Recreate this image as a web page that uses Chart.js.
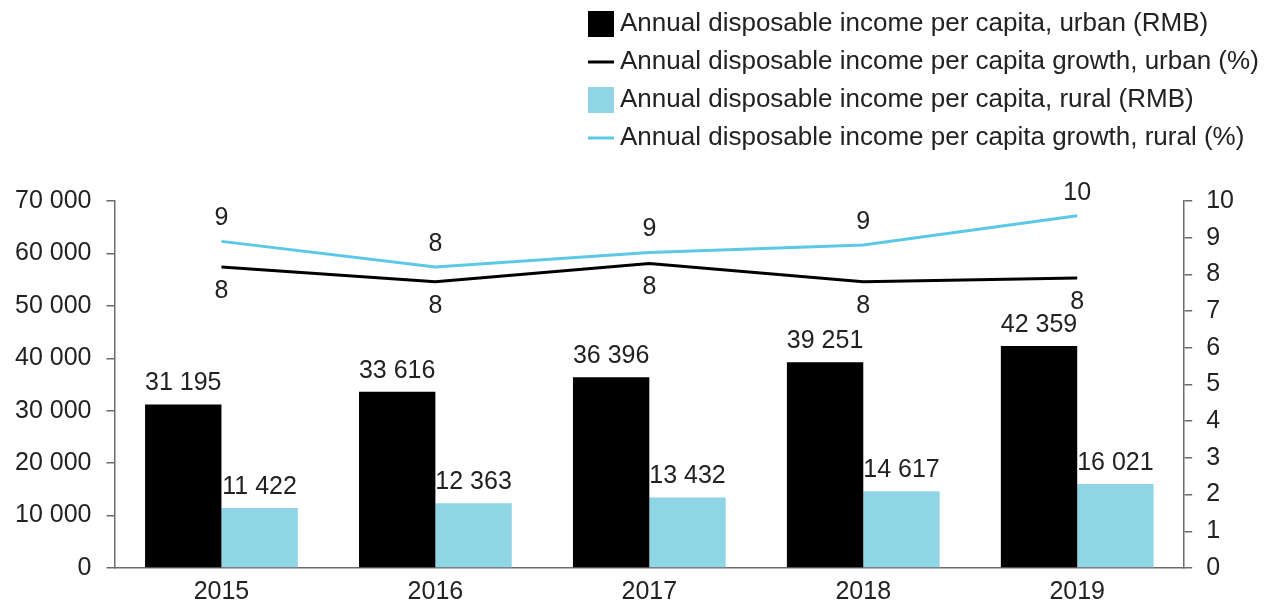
<!DOCTYPE html>
<html>
<head>
<meta charset="utf-8">
<script src="https://cdn.jsdelivr.net/npm/chart.js@4/dist/chart.umd.min.js"></script>
<style>
  html, body { margin: 0; padding: 0; background: #fff; }
  #wrap { width: 1273px; height: 605px; }
</style>
</head>
<body>
<div id="wrap"><canvas id="myChart"></canvas></div>
<script>
const years = ['2015', '2016', '2017', '2018', '2019']
const urbanIncome = [31195, 33616, 36396, 39251, 42359]
const ruralIncome = [11422, 12363, 13432, 14617, 16021]
const urbanGrowth = [8.2, 7.8, 8.3, 7.8, 7.9]
const ruralGrowth = [8.9, 8.2, 8.6, 8.8, 9.6]
const leftTicks = [0, 10000, 20000, 30000, 40000, 50000, 60000, 70000]
const rightTicks = [0, 1, 2, 3, 4, 5, 6, 7, 8, 9, 10]

const FONT = "'Liberation Sans', Arial, sans-serif"
const TXT = '#222'
const AXIS = '#6b6b6b'

let fmt = (v) => String(v).replace(/\B(?=(\d{3})+(?!\d))/g, ' ')

// value labels above bars and next to line points
const labels = {
    id: 'labels',
    afterDatasetsDraw(chart) {
        const ctx = chart.ctx
        ctx.save()
        ctx.font = '25px ' + FONT
        ctx.fillStyle = TXT
        ctx.textAlign = 'center'
        ctx.textBaseline = 'middle'
        chart.data.datasets.forEach((ds, i) => {
            const meta = chart.getDatasetMeta(i)
            meta.data.forEach((el, j) => {
                if (ds.type === 'bar') {
                    ctx.fillText(fmt(ds.data[j]), el.x, el.y - 21)
                } else {
                    const off = ds.labelSide === 'above' ? -23 : 24
                    ctx.fillText(Math.round(ds.data[j]), el.x, el.y + off)
                }
            })
        })
        ctx.restore()
    }
}

// legend in a single column at the top right
const legendCol = {
    id: 'legendCol',
    afterDraw(chart) {
        const ctx = chart.ctx
        ctx.save()
        ctx.font = '26px ' + FONT
        ctx.textBaseline = 'middle'
        chart.data.datasets.forEach((ds, i) => {
            const x = 588
            const y = 24 + i * 38
            if (ds.type === 'bar') {
                ctx.fillStyle = ds.backgroundColor
                ctx.fillRect(x, y - 13, 26, 26)
            } else {
                ctx.strokeStyle = ds.borderColor
                ctx.lineWidth = 3
                ctx.beginPath()
                ctx.moveTo(x, y)
                ctx.lineTo(x + 26, y)
                ctx.stroke()
            }
            ctx.fillStyle = TXT
            ctx.textAlign = 'left'
            ctx.fillText(ds.label, x + 32, y)
        })
        ctx.restore()
    }
}

const dataset = {
    labels: years,
    datasets: [{
        type: 'bar',
        label: 'Annual disposable income per capita, urban (RMB)',
        data: urbanIncome,
        backgroundColor: '#000000',
        yAxisID: 'y',
        order: 2
    }, {
        type: 'line',
        label: 'Annual disposable income per capita growth, urban (%)',
        data: urbanGrowth,
        borderColor: '#000000',
        borderWidth: 3,
        pointRadius: 0,
        tension: 0,
        yAxisID: 'y1',
        labelSide: 'below',
        order: 1
    }, {
        type: 'bar',
        label: 'Annual disposable income per capita, rural (RMB)',
        data: ruralIncome,
        backgroundColor: '#8fd5e6',
        yAxisID: 'y',
        order: 2
    }, {
        type: 'line',
        label: 'Annual disposable income per capita growth, rural (%)',
        data: ruralGrowth,
        borderColor: '#5bc8e6',
        borderWidth: 3,
        pointRadius: 0,
        tension: 0,
        yAxisID: 'y1',
        labelSide: 'above',
        order: 0
    }]
}

const config = {
    data: dataset,
    options: {
        responsive: true,
        maintainAspectRatio: false,
        animation: false,
        categoryPercentage: 0.714,
        barPercentage: 1,
        layout: { padding: { top: 201, left: 0, right: 25, bottom: -3 } },
        plugins: { legend: { display: false }, tooltip: { enabled: false } },
        scales: {
            x: {
                grid: { display: false },
                border: { display: true, color: AXIS, width: 1.5 },
                ticks: { color: TXT, font: { family: FONT, size: 25 }, padding: 1 }
            },
            y: {
                position: 'left',
                min: 0,
                max: 70000,
                afterBuildTicks: (axis) => { axis.ticks = leftTicks.map(v => ({ value: v })) },
                grid: { drawOnChartArea: false, tickLength: 8, color: AXIS, lineWidth: 1.5 },
                border: { display: true, color: AXIS, width: 1.5 },
                ticks: { color: TXT, font: { family: FONT, size: 25 }, padding: 15, callback: (v) => fmt(v) }
            },
            y1: {
                position: 'right',
                min: 0,
                max: 10,
                afterBuildTicks: (axis) => { axis.ticks = rightTicks.map(v => ({ value: v })) },
                grid: { drawOnChartArea: false, tickLength: 8, color: AXIS, lineWidth: 1.5 },
                border: { display: true, color: AXIS, width: 1.5 },
                ticks: { color: TXT, font: { family: FONT, size: 25 }, padding: 14 }
            }
        }
    },
    plugins: [labels, legendCol]
}

const chart = new Chart(document.getElementById('myChart'), config)
</script>
</body>
</html>
